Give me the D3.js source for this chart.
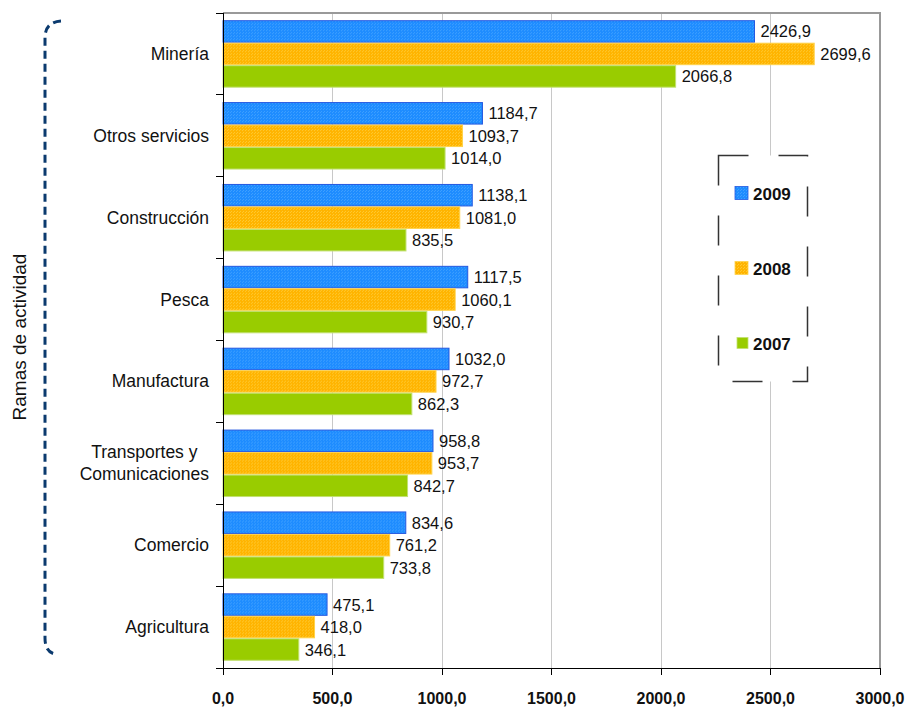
<!DOCTYPE html>
<html><head><meta charset="utf-8">
<script src="https://cdn.jsdelivr.net/npm/d3@7"></script>
<style>
html,body{margin:0;padding:0;background:#fff;}
svg{display:block;font-family:"Liberation Sans",Arial,sans-serif;}
</style></head>
<body>
<svg id="chart" width="908" height="708"></svg>
<script>
const categories = ["Minería","Otros servicios","Construcción","Pesca","Manufactura","Transportes y|Comunicaciones","Comercio","Agricultura"];
const seriesNames = ["2009","2008","2007"];
const values2009 = [2426.9,1184.7,1138.1,1117.5,1032.0,958.8,834.6,475.1];
const values2008 = [2699.6,1093.7,1081.0,1060.1,972.7,953.7,761.2,418.0];
const values2007 = [2066.8,1014.0,835.5,930.7,862.3,842.7,733.8,346.1];
const xTicks = [0,500,1000,1500,2000,2500,3000];
const yTitle = "Ramas de actividad";

const seriesValues = [values2009, values2008, values2007];
const fills = ["#1E8CFF","#FFB400","#99CC00"];
const strokes = ["#2458E0","#FFD24A","#C2E070"];
const dots = ["#3FA0FF","#FFC930","#99CC00"];

const svg = d3.select("#chart");
const L = 223, R = 880, T = 13, B = 668;
const x = d3.scaleLinear().domain([0,3000]).range([L,R]);
const y = d3.scaleBand().domain(categories).range([T,B]).paddingInner(0.176).paddingOuter(0.088);
const yInner = d3.scaleBand().domain(seriesNames).range([0,y.bandwidth()]);
const fmt = v => d3.format(".1f")(v).replace(".",",");

// patterns
const defs = svg.append("defs");
seriesNames.forEach((s,i)=>{
  const p = defs.append("pattern").attr("id","pat"+i).attr("width",3).attr("height",3).attr("patternUnits","userSpaceOnUse");
  p.append("rect").attr("width",3).attr("height",3).attr("fill",fills[i]);
  p.append("rect").attr("x",0).attr("y",0).attr("width",1).attr("height",1).attr("fill",dots[i]);
  p.append("rect").attr("x",2).attr("y",1).attr("width",1).attr("height",1).attr("fill",dots[i]);
});

// gridlines
svg.append("g").selectAll("line").data(xTicks.filter(t=>t>0 && t<3000)).join("line")
  .attr("x1",d=>x(d)).attr("x2",d=>x(d)).attr("y1",T).attr("y2",B)
  .attr("stroke","#c8c8c8").attr("stroke-width",1).attr("shape-rendering","crispEdges");

// plot border (top and right)
svg.append("path").attr("d",`M${L},${T}H${R}V${B}`).attr("fill","none")
  .attr("stroke","#999").attr("stroke-width",2);

// bars
const rows = categories.map((c,ci)=>({c, vals: seriesNames.map((s,si)=>({s, si, v: seriesValues[si][ci]}))}));
const g = svg.append("g").selectAll("g").data(rows).join("g")
  .attr("transform",d=>`translate(0,${y(d.c)})`);
g.selectAll("rect").data(d=>d.vals).join("rect")
  .attr("x",x(0)).attr("y",d=>yInner(d.s)+0.5).attr("width",d=>x(d.v)-x(0)).attr("height",yInner.bandwidth()-1)
  .attr("fill",d=>`url(#pat${d.si})`).attr("stroke",d=>strokes[d.si]).attr("stroke-width",1);
g.selectAll("text").data(d=>d.vals).join("text")
  .attr("x",d=>x(d.v)+6).attr("y",d=>yInner(d.s)+yInner.bandwidth()/2+6)
  .attr("font-size","16.5px").attr("fill","#111").text(d=>fmt(d.v));

// y axis
const yAxis = svg.append("g");
yAxis.append("line").attr("x1",L).attr("x2",L).attr("y1",T).attr("y2",B).attr("stroke","#000").attr("shape-rendering","crispEdges");
const bounds = categories.map(c=>y(c)-y.step()*y.paddingInner()/2).concat([B]);
bounds[0]=T;
yAxis.selectAll("line.t").data(bounds).join("line").attr("class","t")
  .attr("x1",L-7).attr("x2",L).attr("y1",d=>d).attr("y2",d=>d).attr("stroke","#000").attr("shape-rendering","crispEdges");

// category labels
categories.forEach(c=>{
  const lines = c.split("|");
  const cy = y(c)+y.bandwidth()/2;
  const t = svg.append("text").attr("font-size","17.5px").attr("fill","#111");
  const n = lines.length;
  lines.forEach((ln,i)=>{
    t.append("tspan").attr("y",cy+6+(i-(n-1)/2)*22).text(ln);
  });
  // right align block, center lines
  const tsp = t.selectAll("tspan").nodes();
  const widths = tsp.map(s=>s.getComputedTextLength());
  const maxW = d3.max(widths);
  const cx = 209 - maxW/2;
  t.selectAll("tspan").attr("x",cx).attr("text-anchor","middle");
});

// x axis
const xAxis = svg.append("g");
xAxis.append("line").attr("x1",L-7).attr("x2",R).attr("y1",B).attr("y2",B).attr("stroke","#000").attr("shape-rendering","crispEdges");
xAxis.selectAll("line.t").data(xTicks).join("line").attr("class","t")
  .attr("x1",d=>x(d)).attr("x2",d=>x(d)).attr("y1",B).attr("y2",B+7).attr("stroke","#000").attr("shape-rendering","crispEdges");
xAxis.selectAll("text").data(xTicks).join("text")
  .attr("x",d=>x(d)).attr("y",B+36).attr("text-anchor","middle")
  .attr("font-size","16px").attr("font-weight","bold").attr("fill","#111").text(d=>fmt(d));

// y title
svg.append("text").attr("transform","translate(26,337) rotate(-90)").attr("text-anchor","middle")
  .attr("font-size","19px").attr("fill","#111").text(yTitle);

// brace
svg.append("path").attr("d","M61,21 Q45,22 45,38 L45,638 Q45,652 55,654")
  .attr("fill","none").attr("stroke","#0B3A6E").attr("stroke-width",3).attr("stroke-dasharray","8,5");

// legend
svg.append("rect").attr("x",718.5).attr("y",155.5).attr("width",89).attr("height",226)
  .attr("fill","#fff").attr("stroke","#333").attr("stroke-width",1.5).attr("stroke-dasharray","30,30").attr("stroke-dashoffset",0);
const legY = [193,268,343];
const sw = [13,13,11];
const lg = svg.append("g").selectAll("g").data(seriesNames).join("g");
lg.append("rect").attr("x",(d,i)=>748-sw[i]).attr("y",(d,i)=>legY[i]-sw[i]/2).attr("width",(d,i)=>sw[i]).attr("height",(d,i)=>sw[i])
  .attr("fill",(d,i)=>`url(#pat${i})`).attr("stroke",(d,i)=>strokes[i]).attr("stroke-width",0.8);
lg.append("text").attr("x",753).attr("y",(d,i)=>legY[i]+7).attr("font-size","17px").attr("font-weight","bold").attr("fill","#111").text(d=>d);
</script>
</body></html>
